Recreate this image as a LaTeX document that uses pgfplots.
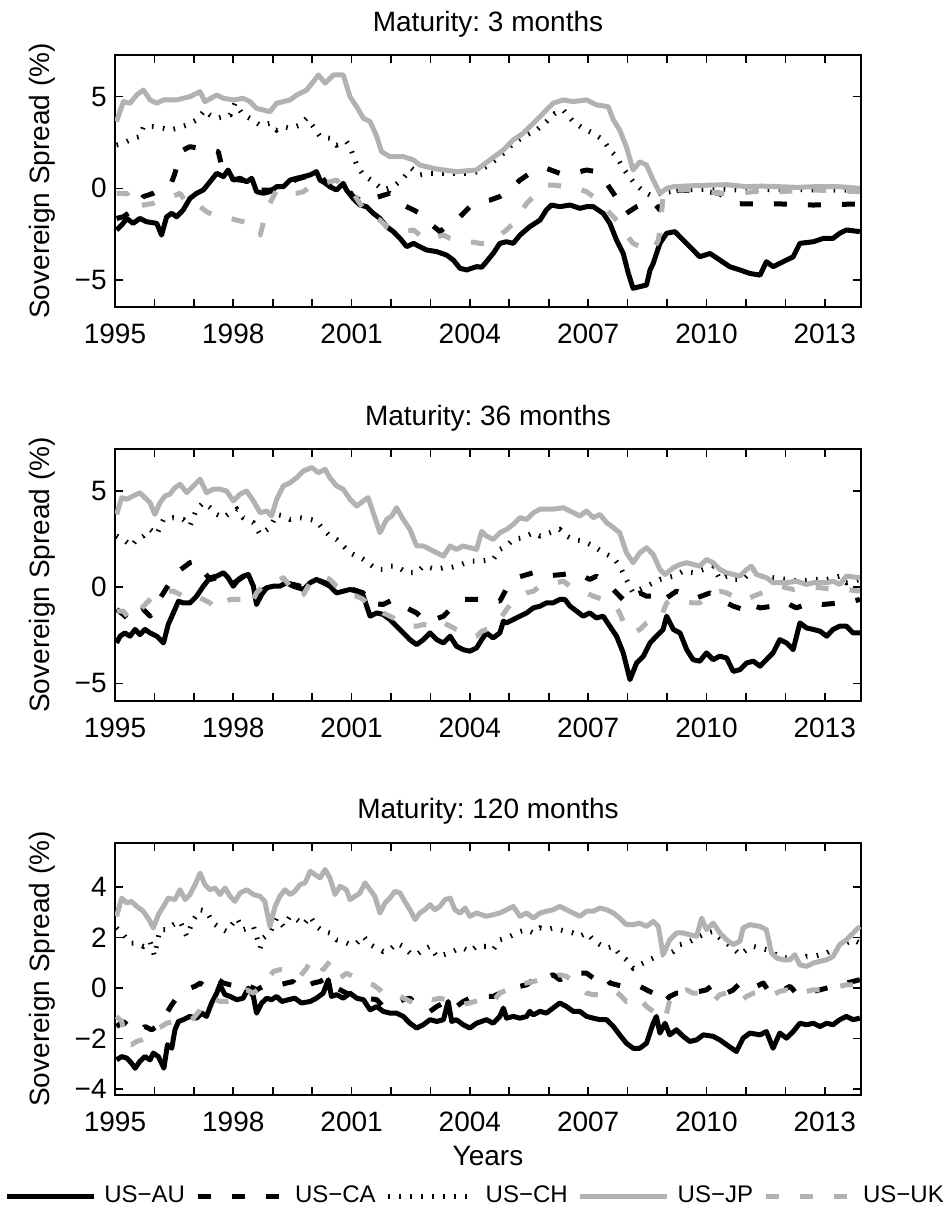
\documentclass[border=0pt]{standalone}
\usepackage{pgfplots}
\pgfplotsset{compat=1.18}
\usepackage{fontspec}
\setmainfont{Liberation Sans}
\frenchspacing
\definecolor{lgray}{gray}{0.7}
\pgfplotsset{
  panel/.style={
    scale only axis, width=373pt, height=126pt,
    xmin=1995, xmax=2013.92,
    xtick={1995,1998,2001,2004,2007,2010,2013},
    xticklabels={1995,1998,2001,2004,2007,2010,2013},
    minor x tick num=2,
    major tick length=4pt, minor tick length=4pt,
    tick align=inside,
    tick style={black, line width=0.8pt},
    axis line style={line width=0.8pt},
    font=\fontsize{14}{16}\selectfont,
    xticklabel style={anchor=base, yshift=-18pt},
    yticklabel style={anchor=east, inner sep=0pt, xshift=-4pt},
    ylabel={Sovereign Spread (\%)},
    ylabel style={at={(axis description cs:-0.0972,0.5)}, anchor=center},
    title style={at={(axis description cs:0.5,1)}, anchor=base, yshift=6pt},
    legend image code/.code={\draw[#1] (0pt,0pt) -- (43.5pt,0pt);},
  },
  au/.style={black, line width=2.5pt, line join=round},
  ca/.style={black, line width=2.5pt, line join=round, line cap=butt, dash pattern=on 6.5pt off 10.5pt},
  ch/.style={black, line width=2.5pt, line cap=butt, dash pattern=on 0.8pt off 4.7pt},
  jp/.style={lgray, line width=2.5pt, line join=round},
  uk/.style={lgray, line width=2.5pt, line join=round, line cap=butt, dash pattern=on 6.5pt off 10.5pt},
}
\begin{document}
\begin{tikzpicture}
\path[use as bounding box] (0,0) rectangle (473.5pt,-611.5pt);
% ---------------- Panel 1 ----------------
\begin{axis}[panel, at={(57.5pt,-153.5pt)}, anchor=south west,
  ymin=-6.47, ymax=7.27, ytick={-5,0,5}, yticklabels={−5,0,5},
  title={Maturity: 3 months}]
\addplot[au] coordinates {(1995.04,-2.27)(1995.17,-2.00)(1995.30,-1.64)(1995.46,-1.91)(1995.63,-1.64)(1995.80,-1.82)(1996.06,-1.91)(1996.18,-2.55)(1996.31,-1.55)(1996.44,-1.36)(1996.56,-1.55)(1996.73,-1.18)(1996.90,-0.55)(1997.07,-0.27)(1997.24,-0.09)(1997.41,0.36)(1997.58,0.82)(1997.75,0.64)(1997.87,1.00)(1998.00,0.45)(1998.17,0.55)(1998.34,0.36)(1998.47,0.55)(1998.59,-0.18)(1998.76,-0.27)(1998.93,-0.18)(1999.10,0.09)(1999.27,0.09)(1999.44,0.45)(1999.61,0.55)(1999.78,0.64)(1999.95,0.73)(2000.11,0.91)(2000.20,0.45)(2000.28,0.36)(2000.45,0.09)(2000.62,-0.09)(2000.79,0.27)(2000.87,-0.09)(2001.04,-0.55)(2001.21,-0.91)(2001.38,-1.00)(2001.55,-1.36)(2001.72,-1.64)(2001.89,-2.09)(2002.06,-2.36)(2002.23,-2.73)(2002.40,-3.18)(2002.57,-3.00)(2002.73,-3.18)(2002.90,-3.36)(2003.16,-3.45)(2003.41,-3.64)(2003.58,-3.91)(2003.75,-4.36)(2003.92,-4.45)(2004.17,-4.27)(2004.30,-4.30)(2004.42,-4.00)(2004.59,-3.55)(2004.76,-3.00)(2004.93,-2.91)(2005.10,-3.00)(2005.27,-2.55)(2005.52,-2.09)(2005.78,-1.73)(2005.94,-1.18)(2006.07,-0.91)(2006.28,-1.00)(2006.54,-0.91)(2006.79,-1.09)(2006.96,-1.00)(2007.13,-1.00)(2007.38,-1.36)(2007.55,-1.91)(2007.72,-2.82)(2007.89,-3.55)(2008.02,-4.64)(2008.14,-5.45)(2008.31,-5.36)(2008.48,-5.27)(2008.57,-4.45)(2008.65,-4.09)(2008.82,-3.00)(2008.99,-2.45)(2009.20,-2.36)(2009.41,-2.82)(2009.66,-3.36)(2009.83,-3.73)(2010.09,-3.55)(2010.34,-3.91)(2010.59,-4.27)(2010.85,-4.45)(2011.10,-4.64)(2011.36,-4.73)(2011.52,-4.00)(2011.69,-4.27)(2011.86,-4.09)(2012.20,-3.73)(2012.37,-3.00)(2012.71,-2.91)(2012.96,-2.73)(2013.21,-2.73)(2013.38,-2.45)(2013.55,-2.27)(2013.89,-2.36)};
\addplot[ca] coordinates {(1995.04,-1.64)(1995.21,-1.55)(1995.46,-1.18)(1995.72,-0.45)(1995.97,-0.27)(1996.31,0.18)(1996.44,0.36)(1996.52,0.82)(1996.61,1.55)(1996.73,2.09)(1996.90,2.27)(1997.16,2.18)(1997.41,2.09)(1997.62,2.00)(1997.75,0.80)(1998.00,0.50)(1998.34,0.40)(1998.59,-0.10)(1998.93,-0.10)(1999.27,0.10)(1999.61,0.50)(1999.95,0.70)(2000.11,0.90)(2000.45,0.10)(2000.79,0.20)(2000.87,0.09)(2001.04,-0.45)(2001.38,-0.82)(2001.55,-0.55)(2001.97,-0.27)(2002.14,-0.45)(2002.31,-0.91)(2002.57,-1.18)(2002.73,-1.36)(2002.99,-1.91)(2003.24,-2.36)(2003.50,-1.91)(2003.75,-1.55)(2004.00,-1.00)(2004.26,-0.73)(2004.51,-0.64)(2004.76,-0.45)(2005.01,-0.09)(2005.27,0.45)(2005.52,0.82)(2005.94,1.09)(2006.28,0.82)(2006.62,0.82)(2006.96,1.00)(2007.21,0.91)(2007.47,0.27)(2007.64,-0.27)(2007.97,-1.36)(2008.23,-1.00)(2008.48,-0.82)(2008.65,-0.73)(2008.82,-1.18)(2008.99,-0.27)(2009.33,-0.09)(2010.00,-0.18)(2010.34,-0.27)(2010.59,-0.82)(2011.02,-0.85)(2011.86,-0.85)(2012.71,-0.91)(2013.89,-0.85)};
\addplot[ch] coordinates {(1995.04,2.36)(1995.21,2.45)(1995.46,2.73)(1995.63,2.82)(1995.72,3.36)(1995.97,3.36)(1996.23,3.27)(1996.39,3.18)(1996.56,3.27)(1996.82,3.45)(1997.07,3.73)(1997.28,4.27)(1997.41,4.00)(1997.58,3.82)(1997.92,4.00)(1998.04,4.64)(1998.25,4.00)(1998.42,3.82)(1998.68,3.45)(1998.93,3.55)(1999.10,3.18)(1999.27,3.36)(1999.44,3.27)(1999.69,3.45)(1999.86,3.82)(2000.03,3.36)(2000.20,2.82)(2000.45,2.73)(2000.62,2.36)(2000.87,2.55)(2000.96,2.27)(2001.13,1.27)(2001.30,0.73)(2001.55,0.36)(2001.80,-0.09)(2002.06,0.09)(2002.31,0.55)(2002.52,1.09)(2002.73,0.73)(2002.99,0.82)(2003.33,0.82)(2003.66,0.82)(2004.09,0.82)(2004.42,1.18)(2004.76,1.73)(2005.10,2.45)(2005.44,2.91)(2005.69,3.18)(2005.94,3.64)(2006.16,4.09)(2006.37,4.27)(2006.62,3.64)(2006.87,3.27)(2007.13,3.00)(2007.38,2.64)(2007.55,2.09)(2007.72,1.73)(2007.89,1.09)(2008.14,0.36)(2008.40,-0.18)(2008.65,-0.45)(2008.82,-0.27)(2009.33,-0.09)(2010.00,-0.05)(2011.00,-0.10)(2012.00,-0.05)(2013.00,-0.10)(2013.89,-0.10)};
\addplot[jp] coordinates {(1995.04,3.64)(1995.21,4.73)(1995.38,4.64)(1995.55,5.09)(1995.72,5.36)(1995.89,4.82)(1996.06,4.64)(1996.23,4.82)(1996.56,4.82)(1996.90,5.00)(1997.16,5.27)(1997.28,4.73)(1997.58,5.09)(1997.75,4.91)(1998.00,4.82)(1998.25,4.91)(1998.42,4.73)(1998.59,4.36)(1998.93,4.18)(1999.10,4.64)(1999.44,4.82)(1999.61,5.09)(1999.86,5.36)(2000.03,5.82)(2000.16,6.18)(2000.33,5.73)(2000.54,6.18)(2000.79,6.18)(2000.96,5.00)(2001.13,4.45)(2001.30,3.82)(2001.47,3.64)(2001.64,2.82)(2001.76,2.00)(2001.97,1.73)(2002.31,1.73)(2002.57,1.55)(2002.73,1.27)(2003.07,1.09)(2003.33,1.00)(2003.66,0.91)(2004.17,1.00)(2004.51,1.55)(2004.85,2.09)(2005.10,2.64)(2005.35,3.00)(2005.61,3.55)(2005.86,4.09)(2006.11,4.64)(2006.37,4.82)(2006.62,4.73)(2006.96,4.82)(2007.21,4.55)(2007.51,4.45)(2007.64,3.73)(2007.80,3.18)(2007.97,2.27)(2008.14,1.00)(2008.31,1.45)(2008.48,1.27)(2008.65,0.45)(2008.82,-0.27)(2008.99,0.00)(2009.16,0.09)(2009.50,0.13)(2009.80,0.15)(2010.17,0.18)(2010.50,0.20)(2011.02,0.09)(2011.40,0.12)(2011.86,0.09)(2012.30,0.05)(2012.71,0.09)(2013.30,0.10)(2013.89,0.00)};
\addplot[uk] coordinates {(1995.04,-0.27)(1995.30,-0.27)(1995.46,-1.00)(1995.72,-0.91)(1995.97,-0.82)(1996.23,-0.55)(1996.44,-0.45)(1996.65,-0.27)(1996.82,-0.82)(1996.99,-0.73)(1997.16,-1.00)(1997.32,-1.27)(1997.49,-1.45)(1997.75,-1.55)(1997.92,-1.64)(1998.09,-1.73)(1998.25,-1.82)(1998.42,-1.91)(1998.59,-2.27)(1998.68,-2.55)(1998.85,-1.18)(1998.97,-0.64)(1999.10,-0.09)(1999.27,-0.18)(1999.44,-0.27)(1999.61,-0.27)(1999.78,-0.18)(1999.95,0.09)(2000.11,0.18)(2000.28,0.27)(2000.45,0.36)(2000.62,0.45)(2000.79,0.09)(2001.04,-0.27)(2001.21,-0.82)(2001.38,-1.36)(2001.55,-1.55)(2001.72,-1.73)(2001.89,-2.09)(2002.06,-2.27)(2002.31,-2.36)(2002.57,-2.27)(2002.73,-2.55)(2002.90,-2.82)(2003.16,-2.64)(2003.33,-2.55)(2003.50,-2.73)(2003.75,-2.82)(2004.00,-2.91)(2004.26,-3.00)(2004.42,-3.00)(2004.59,-2.82)(2004.76,-2.55)(2004.93,-2.27)(2005.10,-1.91)(2005.27,-1.36)(2005.44,-0.82)(2005.61,-0.45)(2005.78,-0.09)(2005.94,0.18)(2006.11,0.18)(2006.45,0.09)(2006.71,0.00)(2006.96,-0.18)(2007.13,-0.45)(2007.30,-0.82)(2007.47,-1.18)(2007.64,-1.55)(2007.80,-1.91)(2007.97,-2.55)(2008.14,-3.00)(2008.31,-3.18)(2008.48,-3.27)(2008.65,-3.36)(2008.78,-2.82)(2008.82,-2.27)(2008.90,-0.45)(2008.99,-0.09)(2009.16,-0.09)(2009.75,-0.09)(2010.34,-0.27)(2010.85,-0.27)(2011.19,-0.18)(2011.86,-0.18)(2012.71,-0.09)(2013.89,-0.18)};
\end{axis}
% ---------------- Panel 2 ----------------
\begin{axis}[panel, at={(57.5pt,-350.5pt)}, anchor=south west,
  ymin=-5.92, ymax=7.18, ytick={-5,0,5}, yticklabels={−5,0,5},
  title={Maturity: 36 months}]
\addplot[au] coordinates {(1995.04,-2.90)(1995.13,-2.55)(1995.25,-2.38)(1995.38,-2.55)(1995.51,-2.20)(1995.63,-2.47)(1995.76,-2.20)(1995.89,-2.38)(1996.06,-2.55)(1996.23,-2.90)(1996.35,-1.94)(1996.48,-1.34)(1996.61,-0.73)(1996.73,-0.82)(1996.90,-0.82)(1997.07,-0.47)(1997.24,0.05)(1997.41,0.49)(1997.58,0.57)(1997.75,0.75)(1997.87,0.49)(1998.00,0.05)(1998.13,0.40)(1998.25,0.57)(1998.38,0.66)(1998.51,0.05)(1998.59,-0.90)(1998.72,-0.38)(1998.85,-0.03)(1999.02,0.05)(1999.18,0.05)(1999.35,0.23)(1999.52,0.05)(1999.78,-0.12)(1999.95,0.23)(2000.11,0.40)(2000.28,0.23)(2000.45,0.05)(2000.62,-0.30)(2000.79,-0.21)(2000.96,-0.12)(2001.13,-0.21)(2001.30,-0.47)(2001.47,-1.51)(2001.64,-1.34)(2001.80,-1.42)(2001.97,-1.68)(2002.14,-2.03)(2002.31,-2.38)(2002.48,-2.73)(2002.65,-2.99)(2002.82,-2.73)(2002.99,-2.38)(2003.16,-2.73)(2003.33,-2.90)(2003.50,-2.55)(2003.66,-3.07)(2003.83,-3.25)(2004.00,-3.33)(2004.17,-3.16)(2004.30,-2.73)(2004.42,-2.38)(2004.59,-2.64)(2004.76,-2.38)(2004.85,-1.77)(2004.93,-1.86)(2005.10,-1.68)(2005.27,-1.51)(2005.44,-1.34)(2005.61,-1.08)(2005.78,-0.99)(2005.94,-0.82)(2006.11,-0.82)(2006.28,-0.64)(2006.41,-0.64)(2006.54,-0.99)(2006.71,-1.25)(2006.87,-1.51)(2007.04,-1.34)(2007.21,-1.60)(2007.38,-1.51)(2007.55,-2.03)(2007.72,-2.55)(2007.89,-3.42)(2008.06,-4.81)(2008.23,-3.94)(2008.40,-3.59)(2008.57,-2.90)(2008.73,-2.55)(2008.90,-2.20)(2008.99,-1.51)(2009.16,-2.20)(2009.33,-2.38)(2009.50,-3.25)(2009.66,-3.77)(2009.83,-3.85)(2010.00,-3.42)(2010.17,-3.77)(2010.34,-3.59)(2010.51,-3.68)(2010.68,-4.38)(2010.85,-4.29)(2011.02,-3.94)(2011.19,-3.85)(2011.36,-4.11)(2011.52,-3.77)(2011.69,-3.42)(2011.86,-2.73)(2012.03,-2.90)(2012.20,-3.25)(2012.37,-1.86)(2012.54,-2.12)(2012.71,-2.20)(2012.88,-2.29)(2013.05,-2.55)(2013.21,-2.20)(2013.38,-2.03)(2013.55,-2.03)(2013.72,-2.38)(2013.89,-2.38)};
\addplot[ca] coordinates {(1995.04,-1.16)(1995.21,-1.42)(1995.38,-1.77)(1995.55,-1.34)(1995.72,-1.16)(1995.89,-1.51)(1996.06,-0.82)(1996.23,-0.30)(1996.39,0.23)(1996.56,0.75)(1996.73,1.01)(1996.90,1.27)(1997.07,1.35)(1997.24,0.83)(1997.41,0.40)(1997.60,0.50)(1997.80,0.60)(1998.00,0.20)(1998.30,0.60)(1998.60,-0.30)(1999.00,0.10)(1999.40,0.20)(1999.80,0.00)(2000.10,0.40)(2000.50,0.10)(2001.00,-0.10)(2001.30,-0.30)(2001.38,-0.82)(2001.80,-0.90)(2002.06,-0.64)(2002.31,-0.99)(2002.65,-1.34)(2002.82,-1.68)(2002.99,-1.77)(2003.33,-1.51)(2003.50,-1.16)(2003.66,-0.82)(2003.83,-0.64)(2004.09,-0.64)(2004.51,-0.64)(2004.76,-0.73)(2005.01,0.23)(2005.18,0.49)(2005.61,0.75)(2005.86,0.57)(2006.37,0.66)(2006.62,0.75)(2006.79,0.66)(2007.04,0.40)(2007.21,0.57)(2007.38,0.31)(2007.55,0.05)(2007.80,-0.47)(2007.97,-0.82)(2008.14,-0.47)(2008.31,-0.30)(2008.48,-0.47)(2008.65,-0.47)(2008.82,-0.82)(2008.99,-0.56)(2009.24,-0.21)(2009.50,-0.38)(2009.75,-0.56)(2010.09,-0.30)(2010.34,-0.64)(2010.68,-0.99)(2010.93,-1.16)(2011.02,-0.82)(2011.36,-1.08)(2011.69,-0.99)(2012.03,-0.82)(2012.28,-1.08)(2012.62,-0.82)(2012.96,-0.90)(2013.38,-0.82)(2013.72,-0.73)(2013.89,-0.64)};
\addplot[ch] coordinates {(1995.04,2.66)(1995.21,2.48)(1995.42,2.14)(1995.55,2.48)(1995.72,2.66)(1995.89,3.00)(1996.06,2.74)(1996.23,3.52)(1996.48,3.61)(1996.73,3.52)(1996.90,3.18)(1997.07,4.05)(1997.24,4.39)(1997.41,4.13)(1997.58,3.78)(1997.75,3.61)(1997.92,3.87)(1998.09,4.05)(1998.25,3.61)(1998.51,3.35)(1998.68,2.74)(1998.93,3.09)(1999.10,3.78)(1999.27,3.70)(1999.44,3.52)(1999.69,3.61)(1999.95,3.52)(2000.11,3.44)(2000.28,3.00)(2000.45,2.66)(2000.62,2.48)(2000.79,2.14)(2000.96,1.79)(2001.13,1.61)(2001.30,1.44)(2001.47,1.18)(2001.64,0.92)(2001.80,0.92)(2001.97,1.09)(2002.14,1.09)(2002.40,0.75)(2002.65,0.75)(2002.82,1.09)(2002.99,1.01)(2003.16,0.92)(2003.33,1.01)(2003.50,1.01)(2003.66,1.09)(2004.00,1.35)(2004.25,1.35)(2004.59,1.44)(2004.76,1.96)(2004.93,2.14)(2005.10,2.48)(2005.35,2.57)(2005.61,2.83)(2005.78,2.66)(2006.03,2.83)(2006.28,3.00)(2006.45,2.66)(2006.62,2.48)(2006.87,2.40)(2007.13,2.14)(2007.38,1.79)(2007.64,1.53)(2007.80,1.09)(2007.97,0.40)(2008.14,-0.30)(2008.31,-0.12)(2008.48,0.05)(2008.82,0.40)(2009.16,0.57)(2009.41,0.83)(2009.66,0.75)(2009.92,0.92)(2010.17,1.09)(2010.34,0.40)(2010.51,0.57)(2010.68,0.40)(2010.93,0.40)(2011.19,0.92)(2011.36,0.57)(2011.69,0.49)(2012.03,0.40)(2012.37,0.31)(2012.71,0.40)(2013.05,0.40)(2013.38,0.57)(2013.55,0.23)(2013.89,0.40)};
\addplot[jp] coordinates {(1995.04,3.78)(1995.17,4.65)(1995.30,4.57)(1995.46,4.74)(1995.63,4.91)(1995.76,4.65)(1995.89,4.39)(1996.01,3.78)(1996.14,4.39)(1996.27,4.74)(1996.39,4.83)(1996.52,5.17)(1996.65,5.35)(1996.82,4.91)(1996.99,5.26)(1997.16,5.61)(1997.32,4.91)(1997.49,5.09)(1997.66,5.09)(1997.83,5.00)(1998.00,4.48)(1998.17,4.83)(1998.34,5.00)(1998.51,4.48)(1998.68,3.87)(1998.85,3.96)(1998.97,3.70)(1999.10,4.57)(1999.27,5.26)(1999.44,5.43)(1999.61,5.69)(1999.78,6.04)(1999.99,6.22)(2000.16,5.95)(2000.33,6.13)(2000.45,5.69)(2000.62,5.26)(2000.79,5.09)(2000.96,4.57)(2001.13,4.22)(2001.30,4.48)(2001.42,4.65)(2001.55,3.87)(2001.72,2.83)(2001.89,3.52)(2002.02,3.70)(2002.14,4.13)(2002.31,3.52)(2002.48,3.00)(2002.65,2.14)(2002.82,2.14)(2002.99,1.96)(2003.16,1.79)(2003.33,1.61)(2003.50,2.14)(2003.66,1.96)(2003.83,2.14)(2004.00,2.05)(2004.17,1.96)(2004.30,2.90)(2004.42,2.66)(2004.59,2.48)(2004.76,2.83)(2004.93,3.00)(2005.10,3.26)(2005.27,3.61)(2005.44,3.52)(2005.61,3.87)(2005.78,4.05)(2005.94,4.05)(2006.11,4.05)(2006.37,4.13)(2006.54,3.96)(2006.79,3.70)(2006.96,3.96)(2007.13,3.61)(2007.30,3.78)(2007.47,3.35)(2007.64,3.09)(2007.80,2.83)(2007.97,1.79)(2008.14,1.27)(2008.31,1.79)(2008.48,2.05)(2008.65,1.70)(2008.82,0.92)(2008.95,0.66)(2009.16,1.01)(2009.33,1.18)(2009.50,1.27)(2009.83,1.09)(2010.00,1.44)(2010.17,1.27)(2010.34,0.92)(2010.51,0.75)(2010.68,0.66)(2010.85,0.57)(2011.02,0.92)(2011.14,1.09)(2011.27,0.66)(2011.52,0.49)(2011.69,0.23)(2012.03,0.23)(2012.28,0.31)(2012.54,0.14)(2012.71,0.23)(2013.05,0.23)(2013.21,0.31)(2013.38,0.14)(2013.55,0.57)(2013.89,0.49)};
\addplot[uk] coordinates {(1995.04,-1.25)(1995.21,-1.25)(1995.38,-1.68)(1995.55,-1.51)(1995.72,-0.99)(1995.97,-0.47)(1996.23,-0.21)(1996.48,-0.21)(1996.65,-0.38)(1996.82,-0.64)(1996.99,-0.64)(1997.16,-0.56)(1997.41,-0.82)(1997.58,-1.16)(1997.75,-0.82)(1997.92,-0.64)(1998.25,-0.64)(1998.42,-0.99)(1998.59,-0.30)(1998.76,0.05)(1998.93,0.23)(1999.10,0.31)(1999.27,0.49)(1999.44,0.05)(1999.61,-0.56)(1999.78,-0.38)(1999.95,0.23)(2000.11,0.40)(2000.28,0.57)(2000.45,0.40)(2000.62,0.05)(2000.79,-0.12)(2000.96,-0.47)(2001.13,-0.47)(2001.30,-0.64)(2001.47,-0.99)(2001.64,-1.08)(2001.80,-1.34)(2001.97,-1.51)(2002.14,-1.68)(2002.31,-1.94)(2002.48,-2.03)(2002.65,-2.03)(2002.82,-1.94)(2002.99,-2.03)(2003.16,-1.77)(2003.33,-1.86)(2003.50,-2.03)(2003.66,-2.20)(2003.83,-2.29)(2004.00,-2.47)(2004.17,-2.55)(2004.30,-2.30)(2004.42,-2.20)(2004.59,-2.12)(2004.76,-1.68)(2004.93,-1.16)(2005.10,-0.73)(2005.27,-0.47)(2005.44,-0.30)(2005.61,-0.21)(2005.78,0.05)(2005.94,0.14)(2006.20,0.23)(2006.37,0.31)(2006.54,0.05)(2006.79,-0.12)(2006.96,-0.30)(2007.13,-0.47)(2007.38,-0.64)(2007.64,-0.82)(2007.80,-1.34)(2007.97,-2.20)(2008.14,-2.38)(2008.31,-2.20)(2008.48,-1.86)(2008.65,-1.77)(2008.82,-1.68)(2008.99,-0.82)(2009.16,-0.64)(2009.33,-0.73)(2009.66,-0.82)(2009.83,-0.82)(2010.00,-0.47)(2010.17,-0.30)(2010.34,-0.21)(2010.51,-0.30)(2010.68,-0.47)(2010.93,-0.73)(2011.19,-0.47)(2011.52,-0.21)(2011.69,-0.12)(2011.86,0.05)(2012.20,-0.12)(2012.54,-0.03)(2012.88,-0.03)(2013.21,-0.12)(2013.55,-0.12)(2013.89,-0.21)};
\end{axis}
% ---------------- Panel 3 ----------------
\begin{axis}[panel, at={(57.5pt,-547.5pt)}, anchor=south west,
  ymin=-4.23, ymax=5.74, ytick={-4,-2,0,2,4}, yticklabels={−4,−2,0,2,4},
  title={Maturity: 120 months},
  xlabel={Years},
  xlabel style={at={(axis description cs:0.5,0)}, anchor=base, yshift=-35pt},
  legend columns=-1,
  legend style={at={(axis description cs:0.484,-0.401)}, anchor=center, draw=none, fill=none,
    font=\fontsize{12}{14}\selectfont,
    /tikz/every odd column/.append style={column sep=2pt},
    /tikz/every even column/.append style={column sep=3pt}}]
\addplot[au] coordinates {(1995.04,-2.84)(1995.17,-2.71)(1995.30,-2.77)(1995.42,-2.97)(1995.51,-3.17)(1995.63,-2.90)(1995.76,-2.71)(1995.89,-2.84)(1995.97,-2.57)(1996.10,-2.71)(1996.18,-2.97)(1996.24,-3.17)(1996.33,-2.24)(1996.44,-2.38)(1996.52,-1.65)(1996.61,-1.32)(1996.73,-1.25)(1996.90,-1.12)(1997.07,-1.19)(1997.20,-0.99)(1997.32,-1.12)(1997.45,-0.59)(1997.58,-0.20)(1997.66,0.13)(1997.79,-0.26)(1997.92,-0.33)(1998.09,-0.46)(1998.25,-0.40)(1998.38,0.00)(1998.51,-0.33)(1998.59,-0.99)(1998.72,-0.59)(1998.85,-0.40)(1998.97,-0.46)(1999.10,-0.33)(1999.23,-0.53)(1999.40,-0.46)(1999.56,-0.40)(1999.73,-0.59)(1999.95,-0.53)(2000.11,-0.40)(2000.28,-0.20)(2000.41,0.33)(2000.49,-0.33)(2000.62,-0.26)(2000.79,-0.40)(2000.96,-0.20)(2001.13,-0.40)(2001.30,-0.46)(2001.47,-0.86)(2001.64,-0.73)(2001.80,-0.92)(2001.97,-0.99)(2002.14,-0.99)(2002.31,-1.12)(2002.48,-1.39)(2002.65,-1.58)(2002.82,-1.45)(2002.99,-1.25)(2003.16,-1.32)(2003.33,-1.25)(2003.45,-0.53)(2003.54,-1.32)(2003.66,-1.25)(2003.83,-1.45)(2004.00,-1.58)(2004.17,-1.39)(2004.42,-1.25)(2004.59,-1.39)(2004.76,-1.12)(2004.85,-0.79)(2004.93,-1.19)(2005.10,-1.12)(2005.27,-1.19)(2005.44,-1.12)(2005.52,-0.92)(2005.61,-1.06)(2005.78,-0.92)(2005.94,-0.99)(2006.11,-0.79)(2006.28,-0.59)(2006.45,-0.73)(2006.62,-0.92)(2006.79,-0.92)(2006.96,-1.12)(2007.13,-1.19)(2007.30,-1.25)(2007.47,-1.25)(2007.64,-1.52)(2007.80,-1.85)(2007.97,-2.18)(2008.14,-2.38)(2008.31,-2.38)(2008.48,-2.18)(2008.65,-1.39)(2008.73,-1.12)(2008.82,-1.78)(2008.95,-1.39)(2009.07,-1.85)(2009.24,-1.65)(2009.41,-1.91)(2009.58,-2.11)(2009.75,-2.05)(2009.92,-1.85)(2010.17,-1.91)(2010.34,-2.05)(2010.51,-2.24)(2010.76,-2.51)(2010.93,-1.98)(2011.10,-1.78)(2011.36,-1.85)(2011.52,-1.72)(2011.69,-2.38)(2011.86,-1.78)(2012.03,-1.98)(2012.20,-1.72)(2012.37,-1.39)(2012.54,-1.45)(2012.71,-1.39)(2012.88,-1.52)(2013.05,-1.39)(2013.21,-1.45)(2013.38,-1.25)(2013.55,-1.12)(2013.72,-1.25)(2013.89,-1.19)};
\addlegendentry{US−AU}
\addplot[ca] coordinates {(1995.04,-1.52)(1995.21,-1.32)(1995.46,-1.65)(1995.63,-1.72)(1995.76,-1.52)(1995.93,-1.65)(1996.06,-1.52)(1996.18,-1.19)(1996.31,-0.99)(1996.44,-0.66)(1996.56,-0.40)(1996.73,-0.20)(1996.90,0.00)(1997.03,0.07)(1997.16,0.20)(1997.28,0.07)(1997.41,0.00)(1997.62,0.33)(1997.75,0.20)(1997.92,0.13)(1998.09,0.07)(1998.25,0.20)(1998.42,0.07)(1998.59,-0.07)(1998.76,0.07)(1998.97,0.07)(1999.18,0.13)(1999.35,0.20)(1999.52,0.26)(1999.69,-0.07)(1999.86,0.07)(2000.03,0.20)(2000.20,0.26)(2000.37,0.40)(2000.54,0.07)(2000.71,-0.07)(2000.87,-0.20)(2001.13,-0.33)(2001.38,-0.40)(2001.64,-0.46)(2001.80,-0.73)(2001.97,-0.66)(2002.14,-0.59)(2002.31,-0.46)(2002.48,-0.40)(2002.65,-0.66)(2002.82,-0.86)(2002.99,-0.92)(2003.16,-0.73)(2003.33,-0.59)(2003.50,-0.46)(2003.66,-0.73)(2003.83,-0.53)(2004.00,-0.40)(2004.17,-0.46)(2004.42,-0.33)(2004.59,-0.33)(2004.76,-0.20)(2004.93,-0.20)(2005.10,-0.07)(2005.27,0.07)(2005.44,0.13)(2005.61,0.33)(2005.78,0.26)(2005.94,0.40)(2006.11,0.53)(2006.28,0.33)(2006.45,0.46)(2006.62,0.59)(2006.79,0.59)(2006.96,0.59)(2007.13,0.40)(2007.38,0.59)(2007.55,0.20)(2007.72,0.13)(2007.89,0.07)(2008.14,0.13)(2008.31,0.07)(2008.48,-0.07)(2008.65,-0.20)(2008.82,-0.59)(2008.99,-0.46)(2009.07,-0.33)(2009.24,-0.20)(2009.50,-0.20)(2009.83,-0.13)(2010.00,-0.07)(2010.17,0.13)(2010.34,0.07)(2010.51,-0.20)(2010.68,-0.07)(2010.85,0.20)(2011.02,0.07)(2011.27,0.07)(2011.44,0.20)(2011.61,-0.20)(2011.78,-0.13)(2011.95,-0.07)(2012.12,0.07)(2012.28,-0.20)(2012.54,-0.20)(2012.88,-0.07)(2013.21,0.07)(2013.38,0.07)(2013.55,0.20)(2013.89,0.33)};
\addlegendentry{US−CA}
\addplot[ch] coordinates {(1995.04,2.38)(1995.21,2.11)(1995.38,1.78)(1995.55,1.78)(1995.72,1.65)(1995.89,1.85)(1996.00,1.28)(1996.14,2.31)(1996.31,2.31)(1996.48,2.51)(1996.65,2.64)(1996.82,2.05)(1996.99,2.71)(1997.16,3.10)(1997.32,3.04)(1997.49,2.57)(1997.66,2.38)(1997.83,2.24)(1998.09,2.77)(1998.25,2.31)(1998.51,2.44)(1998.68,1.58)(1998.76,1.98)(1998.93,2.18)(1999.10,2.77)(1999.27,2.44)(1999.44,2.84)(1999.61,2.71)(1999.78,2.51)(1999.95,2.84)(2000.11,2.44)(2000.28,2.24)(2000.45,2.18)(2000.62,1.91)(2000.79,1.85)(2000.96,1.72)(2001.13,1.78)(2001.30,2.05)(2001.47,1.72)(2001.64,1.58)(2001.80,1.45)(2001.97,1.52)(2002.14,1.78)(2002.31,1.65)(2002.48,1.39)(2002.65,1.32)(2002.82,1.52)(2002.99,1.65)(2003.16,1.25)(2003.33,1.32)(2003.50,1.39)(2003.66,1.52)(2003.83,1.58)(2004.00,1.45)(2004.17,1.65)(2004.42,1.65)(2004.59,1.52)(2004.76,1.91)(2004.93,1.98)(2005.10,2.11)(2005.27,2.24)(2005.44,2.31)(2005.61,2.18)(2005.78,2.38)(2005.94,2.31)(2006.11,2.38)(2006.28,2.31)(2006.45,2.24)(2006.62,2.18)(2006.79,2.05)(2006.96,2.18)(2007.13,1.91)(2007.30,1.72)(2007.47,1.58)(2007.64,1.65)(2007.80,1.32)(2007.97,1.12)(2008.14,0.79)(2008.31,0.92)(2008.48,1.06)(2008.65,1.19)(2008.82,1.32)(2008.99,1.32)(2009.16,1.45)(2009.33,1.72)(2009.50,1.78)(2009.66,1.91)(2009.83,2.05)(2010.00,2.18)(2010.17,2.24)(2010.34,1.98)(2010.51,1.78)(2010.68,1.58)(2010.85,1.32)(2011.02,1.52)(2011.19,1.65)(2011.36,1.58)(2011.52,1.52)(2011.69,1.39)(2011.86,1.25)(2012.03,1.19)(2012.20,1.19)(2012.37,1.12)(2012.54,1.25)(2012.71,1.25)(2012.88,1.32)(2013.05,1.39)(2013.21,1.52)(2013.38,1.65)(2013.55,1.78)(2013.72,1.91)(2013.89,1.78)};
\addlegendentry{US−CH}
\addplot[jp] coordinates {(1995.04,2.84)(1995.17,3.56)(1995.30,3.37)(1995.42,3.43)(1995.55,3.23)(1995.72,3.04)(1995.89,2.64)(1995.97,2.38)(1996.10,2.90)(1996.23,3.23)(1996.35,3.56)(1996.52,3.50)(1996.65,3.89)(1996.78,3.50)(1996.90,3.70)(1997.03,4.09)(1997.16,4.55)(1997.28,4.09)(1997.41,3.89)(1997.54,3.96)(1997.66,3.70)(1997.79,3.96)(1997.92,3.63)(1998.04,3.43)(1998.17,3.76)(1998.34,3.89)(1998.51,3.70)(1998.68,3.63)(1998.80,3.43)(1998.93,2.44)(1999.06,3.23)(1999.18,3.63)(1999.31,3.89)(1999.44,3.70)(1999.56,3.83)(1999.69,4.09)(1999.82,4.16)(1999.95,4.62)(2000.07,4.49)(2000.20,4.36)(2000.33,4.69)(2000.45,4.36)(2000.58,3.70)(2000.71,4.03)(2000.87,3.89)(2000.96,3.50)(2001.09,3.63)(2001.21,3.76)(2001.34,4.16)(2001.47,3.89)(2001.59,3.63)(2001.72,2.97)(2001.85,3.37)(2001.97,3.56)(2002.10,3.83)(2002.23,3.76)(2002.35,3.43)(2002.48,3.10)(2002.61,2.71)(2002.73,2.97)(2002.86,3.10)(2002.99,3.30)(2003.11,3.10)(2003.24,3.23)(2003.37,3.50)(2003.50,3.56)(2003.62,3.10)(2003.75,2.97)(2003.88,3.17)(2004.00,2.84)(2004.17,2.97)(2004.42,2.84)(2004.59,2.90)(2004.76,2.97)(2004.93,3.10)(2005.10,3.23)(2005.27,2.84)(2005.44,2.97)(2005.61,2.77)(2005.78,2.97)(2005.94,3.04)(2006.11,3.10)(2006.28,3.23)(2006.45,3.10)(2006.62,2.97)(2006.79,2.84)(2006.96,3.04)(2007.13,3.04)(2007.30,3.17)(2007.47,3.10)(2007.64,2.97)(2007.80,2.77)(2007.97,2.51)(2008.14,2.51)(2008.31,2.57)(2008.48,2.44)(2008.65,2.64)(2008.78,2.44)(2008.90,1.32)(2009.07,1.91)(2009.24,2.18)(2009.41,2.18)(2009.58,2.11)(2009.75,2.05)(2009.88,2.77)(2010.00,2.31)(2010.17,2.57)(2010.34,2.18)(2010.51,1.91)(2010.68,1.72)(2010.85,1.85)(2010.93,2.38)(2011.10,2.51)(2011.36,2.44)(2011.52,2.31)(2011.65,1.39)(2011.78,1.19)(2011.95,1.12)(2012.12,1.12)(2012.24,1.32)(2012.37,0.92)(2012.54,0.86)(2012.71,0.99)(2012.88,1.06)(2013.05,1.12)(2013.21,1.25)(2013.38,1.72)(2013.55,1.91)(2013.72,2.18)(2013.89,2.44)};
\addlegendentry{US−JP}
\addplot[uk] coordinates {(1995.04,-1.12)(1995.17,-1.32)(1995.30,-2.18)(1995.42,-2.24)(1995.55,-2.11)(1995.68,-2.05)(1995.85,-1.91)(1996.01,-1.65)(1996.18,-1.52)(1996.31,-1.39)(1996.48,-1.32)(1996.65,-1.39)(1996.82,-1.32)(1996.99,-1.19)(1997.16,-0.86)(1997.32,-0.53)(1997.49,-0.40)(1997.66,-0.53)(1997.83,-0.53)(1998.00,-0.46)(1998.17,-0.26)(1998.34,-0.07)(1998.51,-0.20)(1998.68,0.00)(1998.85,0.33)(1999.02,0.66)(1999.18,0.73)(1999.35,0.73)(1999.52,0.59)(1999.69,0.46)(1999.86,0.79)(1999.99,1.19)(2000.11,1.06)(2000.28,0.73)(2000.45,1.06)(2000.58,0.73)(2000.71,0.40)(2000.87,0.59)(2001.04,0.46)(2001.21,0.33)(2001.38,0.20)(2001.55,0.13)(2001.72,-0.07)(2001.89,-0.33)(2002.06,-0.33)(2002.23,-0.33)(2002.40,-0.46)(2002.57,-0.59)(2002.73,-0.53)(2002.90,-0.40)(2003.07,-0.46)(2003.24,-0.40)(2003.41,-0.46)(2003.58,-0.53)(2003.75,-0.66)(2004.00,-0.59)(2004.26,-0.46)(2004.42,-0.59)(2004.59,-0.53)(2004.76,-0.20)(2004.93,-0.07)(2005.10,0.07)(2005.27,0.20)(2005.44,0.20)(2005.61,0.26)(2005.78,0.33)(2005.94,0.40)(2006.11,0.46)(2006.28,0.53)(2006.45,0.46)(2006.62,0.26)(2006.79,0.00)(2006.96,-0.20)(2007.13,-0.26)(2007.30,-0.26)(2007.47,-0.20)(2007.64,-0.07)(2007.80,-0.26)(2007.97,-0.53)(2008.14,-0.33)(2008.31,-0.40)(2008.48,-0.73)(2008.65,-0.92)(2008.82,-1.12)(2008.95,-1.25)(2009.03,-0.73)(2009.07,-0.46)(2009.16,-0.20)(2009.33,-0.13)(2009.50,-0.07)(2009.66,-0.20)(2009.83,-0.20)(2010.00,-0.40)(2010.17,-0.53)(2010.34,-0.26)(2010.51,-0.20)(2010.68,-0.40)(2010.85,-0.53)(2011.02,-0.33)(2011.19,-0.20)(2011.36,-0.13)(2011.52,-0.20)(2011.69,-0.26)(2011.86,-0.13)(2012.03,-0.07)(2012.20,-0.20)(2012.37,-0.26)(2012.54,-0.13)(2012.71,-0.07)(2012.88,-0.07)(2013.05,-0.04)(2013.21,0.00)(2013.38,0.07)(2013.55,0.13)(2013.89,0.13)};
\addlegendentry{US−UK}
\end{axis}
\end{tikzpicture}
\end{document}
